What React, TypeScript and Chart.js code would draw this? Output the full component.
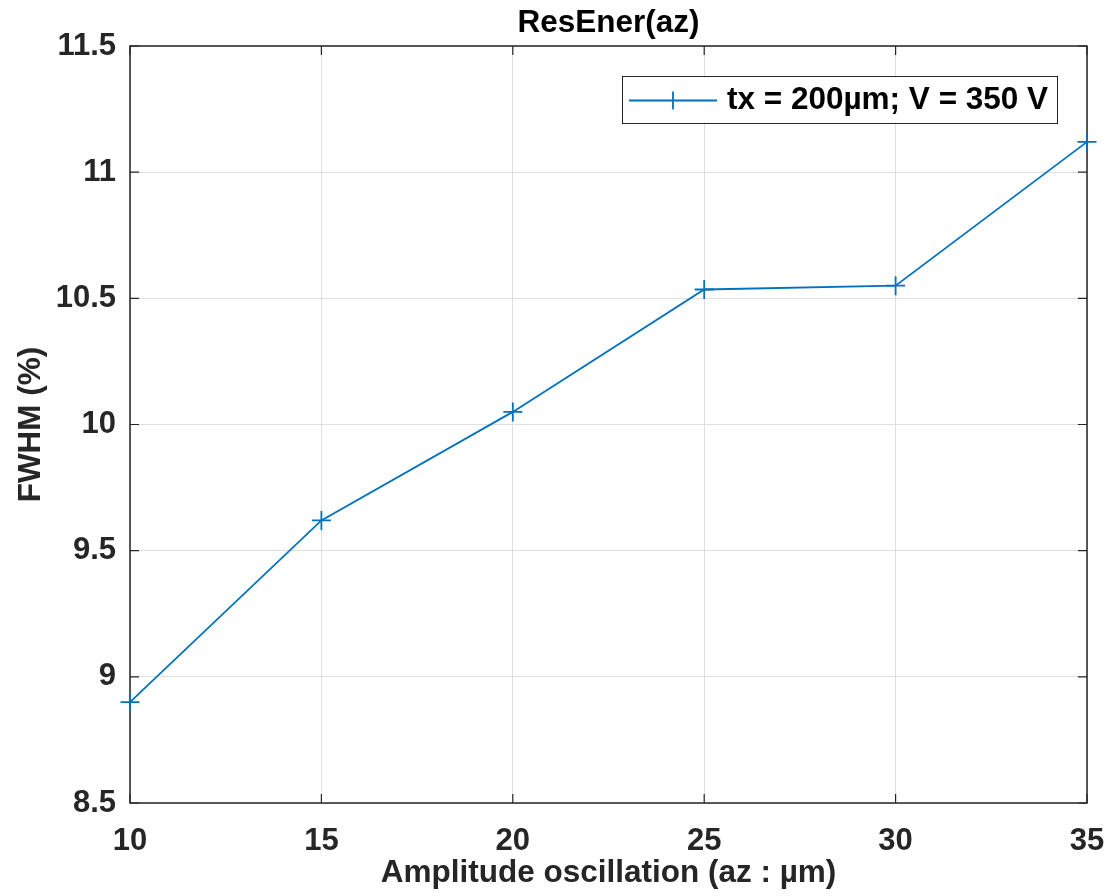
import React, { useEffect, useRef } from "react";
import { Chart, registerables } from "chart.js";

Chart.register(...registerables);

const amplitudes = [10, 15, 20, 25, 30, 35];
const fwhm = [8.9, 9.62, 10.05, 10.535, 10.55, 11.12];
const xTicks = [10, 15, 20, 25, 30, 35];
const yTicks = [8.5, 9, 9.5, 10, 10.5, 11, 11.5];
const seriesLabel = "tx = 200µm; V = 350 V";
const chartTitle = "ResEner(az)";
const xTitle = "Amplitude oscillation (az : µm)";
const yTitle = "FWHM (%)";

const FONT = "'Liberation Sans', Arial, Helvetica, sans-serif";
const LINE = "#0072BD";
const AXIS = "#262626";

const matlabPlugin = {
  id: "matlabDecor",
  beforeDatasetsDraw(chart: any) {
    const { ctx, chartArea: a, scales } = chart;
    const xs = scales.x;
    const ys = scales.y;
    ctx.save();
    ctx.strokeStyle = AXIS;
    ctx.lineWidth = 1.5;
    ctx.strokeRect(a.left, a.top, a.right - a.left, a.bottom - a.top);
    ctx.lineWidth = 1.2;
    const tl = 9;
    ctx.beginPath();
    xTicks.forEach((v) => {
      const px = xs.getPixelForValue(v);
      ctx.moveTo(px, a.bottom);
      ctx.lineTo(px, a.bottom - tl);
      ctx.moveTo(px, a.top);
      ctx.lineTo(px, a.top + tl);
    });
    yTicks.forEach((v) => {
      const py = ys.getPixelForValue(v);
      ctx.moveTo(a.left, py);
      ctx.lineTo(a.left + tl, py);
      ctx.moveTo(a.right, py);
      ctx.lineTo(a.right - tl, py);
    });
    ctx.stroke();
    ctx.restore();
  },
  afterDraw(chart: any) {
    const { ctx, chartArea: a } = chart;
    ctx.save();
    // title
    ctx.fillStyle = "#000";
    ctx.font = `bold 31.5px ${FONT}`;
    ctx.textAlign = "center";
    ctx.textBaseline = "middle";
    ctx.fillText(chartTitle, (a.left + a.right) / 2, 23);
    // legend
    const bx = 622, by = 76, bw = 435, bh = 47;
    ctx.fillStyle = "#fff";
    ctx.fillRect(bx, by, bw, bh);
    ctx.strokeStyle = AXIS;
    ctx.lineWidth = 1;
    ctx.strokeRect(bx + 0.5, by + 0.5, bw, bh);
    const cy = by + bh / 2 + 1;
    ctx.strokeStyle = LINE;
    ctx.lineWidth = 1.8;
    ctx.beginPath();
    ctx.moveTo(629, cy);
    ctx.lineTo(717, cy);
    ctx.moveTo(673, cy - 9);
    ctx.lineTo(673, cy + 9);
    ctx.stroke();
    ctx.fillStyle = "#000";
    ctx.textAlign = "left";
    ctx.font = `bold 31.5px ${FONT}`;
    ctx.fillText(seriesLabel, 727, cy);
    ctx.restore();
  },
};

export default function App() {
  const ref = useRef<HTMLCanvasElement | null>(null);
  useEffect(() => {
    document.body.style.margin = "0";
    const canvas = ref.current;
    if (!canvas) return;
    const chart = new Chart(canvas, {
      type: "line",
      data: {
        datasets: [
          {
            label: seriesLabel,
            data: amplitudes.map((x, i) => ({ x, y: fwhm[i] })),
            borderColor: LINE,
            backgroundColor: LINE,
            borderWidth: 1.8,
            pointStyle: "cross",
            pointRadius: 9.5,
            pointBorderWidth: 1.8,
            pointBorderColor: LINE,
            tension: 0,
            fill: false,
            clip: false,
          },
        ],
      },
      options: {
        animation: false,
        responsive: true,
        maintainAspectRatio: false,
        layout: { padding: { top: 46, right: 30, left: 0, bottom: 0 } },
        plugins: {
          legend: { display: false },
          title: { display: false },
          tooltip: { enabled: false },
        },
        scales: {
          x: {
            type: "linear",
            min: 10,
            max: 35,
            afterFit: (s: any) => {
              s.height = 93;
              s.paddingLeft = 0;
              s.paddingRight = 0;
            },
            afterBuildTicks: (s: any) => {
              s.ticks = xTicks.map((v) => ({ value: v }));
            },
            grid: { color: "#dfdfdf", lineWidth: 1, drawTicks: false },
            border: { display: false },
            ticks: {
              color: AXIS,
              padding: 20,
              maxRotation: 0,
              font: { family: FONT, size: 31, weight: "bold" },
              callback: (v: any) => String(v),
            },
            title: {
              display: true,
              text: xTitle,
              color: AXIS,
              padding: { top: 0, bottom: 4 },
              font: { family: FONT, size: 31.5, weight: "bold" },
            },
          },
          y: {
            type: "linear",
            min: 8.5,
            max: 11.5,
            afterFit: (s: any) => {
              s.width = 130;
              s.paddingTop = 0;
              s.paddingBottom = 0;
            },
            afterBuildTicks: (s: any) => {
              s.ticks = yTicks.map((v) => ({ value: v }));
            },
            grid: { color: "#dfdfdf", lineWidth: 1, drawTicks: false },
            border: { display: false },
            ticks: {
              color: AXIS,
              padding: 14,
              font: { family: FONT, size: 31, weight: "bold" },
              callback: (v: any) => String(v),
            },
            title: {
              display: true,
              text: yTitle,
              color: AXIS,
              padding: { top: 12, bottom: 0 },
              font: { family: FONT, size: 31.5, weight: "bold" },
            },
          },
        },
      },
      plugins: [matlabPlugin],
    });
    return () => chart.destroy();
  }, []);
  return (
    <div style={{ position: "relative", width: 1117, height: 896 }}>
      <canvas ref={ref} />
    </div>
  );
}
